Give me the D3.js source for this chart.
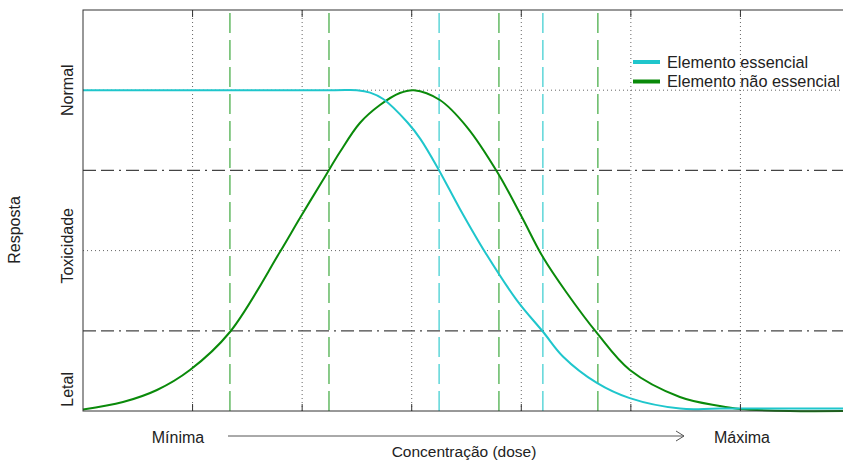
<!DOCTYPE html>
<html>
<head>
<meta charset="utf-8">
<script src="https://cdn.jsdelivr.net/npm/d3@7"></script>
<style>
  html, body { margin: 0; padding: 0; background: #fff; }
  svg { display: block; font-family: "Liberation Sans", Arial, sans-serif; }
</style>
</head>
<body>
<svg id="chart" width="843" height="462"></svg>
<script>
// ---- data ----
const xGridTicks = [1, 2, 3, 4, 5, 6];
const dottedLevels = [2, 4];
const dashedLevels = [1, 3];
const levelLabels = ["Letal", "Toxicidade", "Normal"];
const levelLabelPos = [0.27, 2.06, 4];

const essentialX = [0, 2.3, 2.5, 2.62, 2.74, 2.96, 3.08, 3.25, 3.44, 3.67, 3.96, 4.20, 4.38, 4.69, 4.99, 5.45, 5.81, 7];
const essentialY = [4, 4, 4, 3.97, 3.89, 3.60, 3.39, 3.0, 2.52, 1.98, 1.38, 0.985, 0.68, 0.35, 0.16, 0.03, 0.03, 0.03];

const nonEssentialX = [0, 0.365, 0.675, 0.976, 1.341, 1.797, 1.98, 2.19, 2.345, 2.527, 2.71, 2.892, 3.02, 3.257, 3.504, 3.786, 4.005, 4.197, 4.416, 4.69, 4.991, 5.447, 5.812, 5.995, 6.45, 7];
const nonEssentialY = [0.02, 0.112, 0.262, 0.511, 0.985, 1.983, 2.407, 2.88, 3.229, 3.591, 3.815, 3.965, 4.0, 3.878, 3.541, 2.968, 2.419, 1.92, 1.471, 0.973, 0.511, 0.175, 0.062, 0.025, 0.0, 0.0];

const essentialMarkers = [3.25, 4.197];
const nonEssentialMarkers = [1.341, 2.245, 3.796, 4.699];

const seriesNames = ["Elemento essencial", "Elemento não essencial"];
const seriesColors = ["#1fc6cc", "#0a8a0a"];
const markerColors = ["#45d0d3", "#4caf4c"];

const xAxisEnds = ["Mínima", "Máxima"];
const xAxisTitle = "Concentração (dose)";
const yAxisTitle = "Resposta";

// ---- layout ----
const svg = d3.select("#chart");
const x = d3.scaleLinear().domain([0, 7]).range([83, 850]);
const y = d3.scaleLinear().domain([0, 5]).range([411, 10]);
const [x0, x1] = x.range();
const [yb, yt] = y.range();

// grid dotted
svg.append("g").selectAll("line").data(xGridTicks).join("line")
  .attr("x1", d => x(d)).attr("x2", d => x(d)).attr("y1", yb).attr("y2", yt)
  .attr("stroke", "#666").attr("stroke-width", 1).attr("stroke-dasharray", "1,3");
svg.append("g").selectAll("line").data(dottedLevels).join("line")
  .attr("x1", x0).attr("x2", x1).attr("y1", d => y(d)).attr("y2", d => y(d))
  .attr("stroke", "#666").attr("stroke-width", 1).attr("stroke-dasharray", "1,3");
// dashed thresholds
svg.append("g").selectAll("line").data(dashedLevels).join("line")
  .attr("x1", x0).attr("x2", x1).attr("y1", d => y(d)).attr("y2", d => y(d))
  .attr("stroke", "#444").attr("stroke-width", 1.2).attr("stroke-dasharray", "13,5,13,5,2,5");

// vertical markers
const markerSets = [essentialMarkers, nonEssentialMarkers];
markerSets.forEach((set, i) => {
  svg.append("g").selectAll("line").data(set).join("line")
    .attr("x1", d => x(d)).attr("x2", d => x(d)).attr("y1", yb).attr("y2", yt)
    .attr("stroke", markerColors[i]).attr("stroke-width", 1.3).attr("stroke-dasharray", "20,7");
});

// curves
const line = d3.line().x(d => x(d[0])).y(d => y(d[1])).curve(d3.curveCatmullRom.alpha(0.5));
const seriesData = [
  essentialX.map((v, i) => [v, essentialY[i]]),
  nonEssentialX.map((v, i) => [v, nonEssentialY[i]])
];
[1, 0].forEach(i => {
  svg.append("path").datum(seriesData[i])
    .attr("d", line).attr("fill", "none")
    .attr("stroke", seriesColors[i]).attr("stroke-width", 2);
});

// frame
svg.append("rect").attr("x", x0).attr("y", yt).attr("width", x1 - x0).attr("height", yb - yt)
  .attr("fill", "none").attr("stroke", "#333").attr("stroke-width", 1);

// ticks
const g = svg.append("g").attr("stroke", "#333").attr("stroke-width", 1);
g.selectAll(".tb").data(xGridTicks).join("line").attr("class", "tb")
  .attr("x1", d => x(d)).attr("x2", d => x(d)).attr("y1", yb).attr("y2", yb - 7);
g.selectAll(".tt").data(xGridTicks).join("line").attr("class", "tt")
  .attr("x1", d => x(d)).attr("x2", d => x(d)).attr("y1", yt).attr("y2", yt + 7);

// y level labels
svg.append("g").selectAll("text").data(levelLabels).join("text")
  .attr("transform", (d, i) => `translate(73,${y(levelLabelPos[i])}) rotate(-90)`)
  .attr("text-anchor", "middle").attr("font-size", 16).attr("fill", "#222")
  .text(d => d);
svg.append("text")
  .attr("transform", `translate(20,230) rotate(-90)`)
  .attr("text-anchor", "middle").attr("font-size", 16).attr("fill", "#222")
  .text(yAxisTitle);

// x labels
svg.append("text").attr("x", 178).attr("y", 443).attr("text-anchor", "middle")
  .attr("font-size", 16).attr("fill", "#222").text(xAxisEnds[0]);
svg.append("text").attr("x", 742).attr("y", 443).attr("text-anchor", "middle")
  .attr("font-size", 16).attr("fill", "#222").text(xAxisEnds[1]);
svg.append("text").attr("x", 464).attr("y", 457).attr("text-anchor", "middle")
  .attr("font-size", 15.5).attr("fill", "#222").text(xAxisTitle);
// arrow
svg.append("line").attr("x1", 228).attr("x2", 684).attr("y1", 436).attr("y2", 436)
  .attr("stroke", "#555").attr("stroke-width", 1);
svg.append("path").attr("d", "M676,431 L684,436 L676,441")
  .attr("fill", "none").attr("stroke", "#555").attr("stroke-width", 1);

// legend
const legend = svg.append("g");
seriesNames.forEach((name, i) => {
  const ly = 62 + i * 19.5;
  legend.append("line").attr("x1", 633).attr("x2", 660).attr("y1", ly).attr("y2", ly)
    .attr("stroke", seriesColors[i]).attr("stroke-width", 4);
  legend.append("text").attr("x", 667).attr("y", ly + 5.5)
    .attr("font-size", 16.3).attr("fill", "#222").text(name);
});
</script>
</body>
</html>
